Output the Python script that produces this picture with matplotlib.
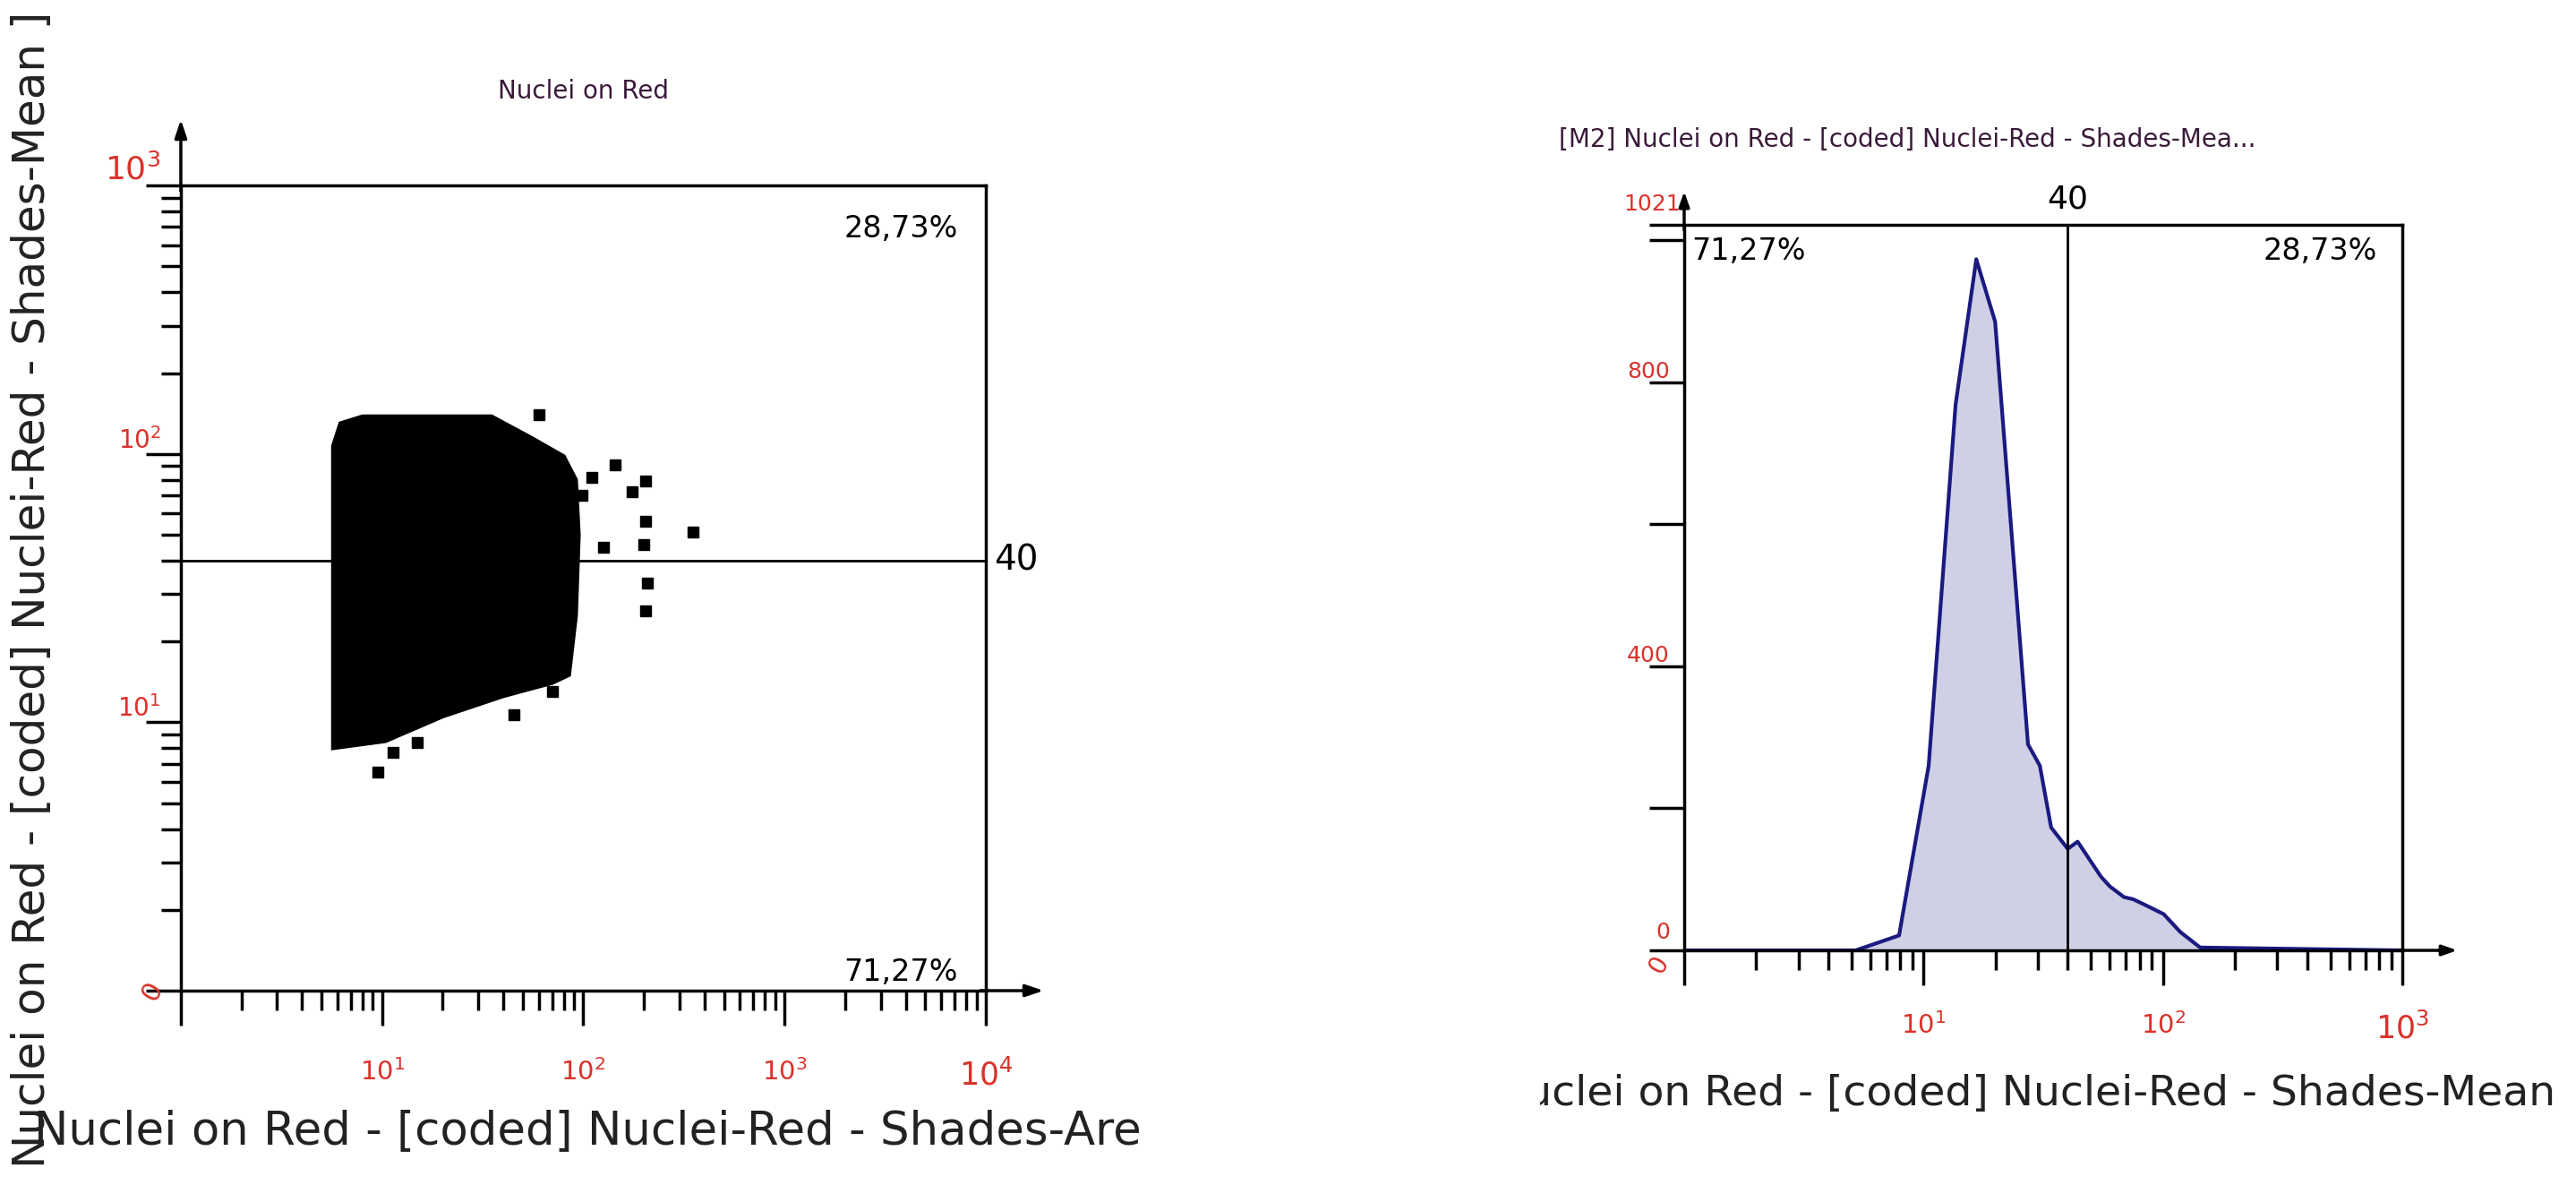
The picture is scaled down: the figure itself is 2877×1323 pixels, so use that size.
import matplotlib
matplotlib.use("Agg")
import matplotlib.pyplot as plt
import numpy as np
from matplotlib.ticker import LogLocator, NullFormatter, FixedLocator
from matplotlib.transforms import Bbox

# ---- data ----
blob_x = [5.7, 6.2, 8, 35, 55, 80, 92, 95, 92, 85, 70, 40, 20, 10.4, 5.7]
blob_y = [107, 130, 138, 138, 115, 98, 80, 50, 25, 15, 14, 12.5, 10.5, 8.5, 8.0]
out_x = [144, 203, 175, 203, 350, 200, 126, 208, 203, 45, 9.5, 11.3, 15, 110, 60, 98, 70]
out_y = [91, 79, 72, 56, 51, 46, 45, 33, 26, 10.7, 6.5, 7.7, 8.4, 82, 140, 70, 13]
gate = 40
pct_hi = "28,73%"
pct_lo = "71,27%"
hist_x = [1, 5.2, 7.9, 10.5, 13.6, 16.6, 19.9, 27.3, 30.6, 34.1, 40, 44, 50, 55, 60, 68.7, 75, 83, 100.7, 118, 143, 1000]
hist_y = [0, 0, 21, 260, 768, 973, 885, 290, 260, 173, 143, 153, 125, 104, 90, 75, 72, 65, 51, 26, 4, 0]

RED = "#d9332b"
fig = plt.figure(figsize=(28.77, 13.23), dpi=100)

def log_ticks(ax, axis):
    a = ax.xaxis if axis == 'x' else ax.yaxis
    a.set_major_locator(LogLocator(base=10, numticks=20))
    a.set_minor_locator(LogLocator(base=10, subs=np.arange(2, 10), numticks=100))
    a.set_major_formatter(NullFormatter())
    a.set_minor_formatter(NullFormatter())

# ---------------- left scatter ----------------
ax = fig.add_axes([0.0702, 0.164, 0.3125, 0.6795])
ax.set_xscale('log'); ax.set_yscale('log')
ax.set_xlim(1, 1e4); ax.set_ylim(1, 1e3)
ax.fill(blob_x, blob_y, color='black', lw=3)
ax.plot(out_x, out_y, 's', color='black', ms=8)
ax.axhline(gate, color='black', lw=2)
log_ticks(ax, 'x'); log_ticks(ax, 'y')
ax.tick_params(which='major', direction='out', length=28, width=2.5)
ax.tick_params(which='minor', direction='out', length=16, width=2.5)
for s in ax.spines.values():
    s.set_linewidth(2.5)
for e in [1, 2, 3, 4]:
    ax.text(10**e, -0.085, r'10$^{%d}$' % e, transform=ax.get_xaxis_transform(),
            color=RED, fontsize=21 + (4 if e == 4 else 0), ha='center', va='top')
for e in [1, 2, 3]:
    ax.text(-0.025, 10**e, r'10$^{%d}$' % e, transform=ax.get_yaxis_transform(),
            color=RED, fontsize=20 + (6 if e == 3 else 0), ha='right', va='bottom')
ax.text(-0.035, 0, '0', transform=ax.transAxes, color=RED, fontsize=22,
        rotation=60, ha='center', va='center')
ax.annotate('', xy=(0, 1.085), xytext=(0, 0.99), xycoords='axes fraction',
            arrowprops=dict(arrowstyle='-|>,head_width=0.4,head_length=1.2', color='black', lw=2.5))
ax.annotate('', xy=(1.075, 0), xytext=(0.99, 0), xycoords='axes fraction',
            arrowprops=dict(arrowstyle='-|>,head_width=0.4,head_length=1.2', color='black', lw=2.5))
ax.text(0.965, 0.965, pct_hi, transform=ax.transAxes, fontsize=24, ha='right', va='top')
ax.text(0.965, 0.005, pct_lo, transform=ax.transAxes, fontsize=24, ha='right', va='bottom')
ax.text(1.01, gate, str(gate), transform=ax.get_yaxis_transform(), fontsize=28, ha='left', va='center')
ax.set_title('Nuclei on Red', fontsize=20, color='#3a1a3a', pad=70)
tl = fig.text(0.443, 0.045, 'Nuclei on Red - [coded] Nuclei-Red - Shades-Are', fontsize=37,
              ha='right', va='center', color='#222222')
tl.set_clip_box(Bbox.from_extents(18, 0, 2877, 1323))
tl.set_clip_on(True)
fig.text(0.004, 0.99, 'Nuclei on Red - [coded] Nuclei-Red - Shades-Mean ]', fontsize=36,
         rotation=90, ha='left', va='top', color='#222222')

# ---------------- right histogram ----------------
ax2 = fig.add_axes([0.6538, 0.198, 0.2788, 0.612])
ax2.set_xscale('log')
ax2.set_xlim(1, 1e3); ax2.set_ylim(0, 1021)
ax2.fill_between(hist_x, hist_y, color='#cfd0e6')
ax2.plot(hist_x, hist_y, color='#1a1a80', lw=3)
ax2.axvline(gate, color='black', lw=2)
log_ticks(ax2, 'x')
ax2.yaxis.set_major_locator(FixedLocator([0, 200, 400, 600, 800, 1000, 1021]))
ax2.set_yticklabels([])
ax2.tick_params(which='major', direction='out', length=28, width=2.5)
ax2.tick_params(which='minor', direction='out', length=16, width=2.5)
for s in ax2.spines.values():
    s.set_linewidth(2.5)
for e in [1, 2, 3]:
    ax2.text(10**e, -0.085, r'10$^{%d}$' % e, transform=ax2.get_xaxis_transform(),
             color=RED, fontsize=21 + (4 if e == 3 else 0), ha='center', va='top')
for v in [400, 800]:
    ax2.text(-0.02, v, str(v), transform=ax2.get_yaxis_transform(), color=RED,
             fontsize=18, ha='right', va='bottom')
ax2.text(-0.005, 1035, '1021', transform=ax2.get_yaxis_transform(), color=RED,
         fontsize=18, ha='right', va='bottom')
ax2.text(-0.02, 10, '0', transform=ax2.get_yaxis_transform(), color=RED,
         fontsize=18, ha='right', va='bottom')
ax2.text(-0.035, -0.02, '0', transform=ax2.transAxes, color=RED, fontsize=20,
         rotation=60, ha='center', va='center')
ax2.annotate('', xy=(0, 1.05), xytext=(0, 0.99), xycoords='axes fraction',
             arrowprops=dict(arrowstyle='-|>,head_width=0.35,head_length=1.0', color='black', lw=2.5))
ax2.annotate('', xy=(1.08, 0), xytext=(0.99, 0), xycoords='axes fraction',
             arrowprops=dict(arrowstyle='-|>,head_width=0.35,head_length=1.0', color='black', lw=2.5))
ax2.text(0.01, 0.985, pct_lo, transform=ax2.transAxes, fontsize=24, ha='left', va='top')
ax2.text(0.965, 0.985, pct_hi, transform=ax2.transAxes, fontsize=24, ha='right', va='top')
ax2.text(gate, 1.015, str(gate), transform=ax2.get_xaxis_transform(), fontsize=26, ha='center', va='bottom')
fig.text(0.605, 0.882, '[M2] Nuclei on Red - [coded] Nuclei-Red - Shades-Mea...', fontsize=20,
         ha='left', va='center', color='#3a1a3a')
t = fig.text(0.992, 0.077, 'Nuclei on Red - [coded] Nuclei-Red - Shades-Mean', fontsize=34,
             ha='right', va='center', color='#222222')
t.set_clip_box(Bbox.from_extents(1720, 0, 2877, 1323))
t.set_clip_on(True)

fig.savefig('out.png', dpi=100)
